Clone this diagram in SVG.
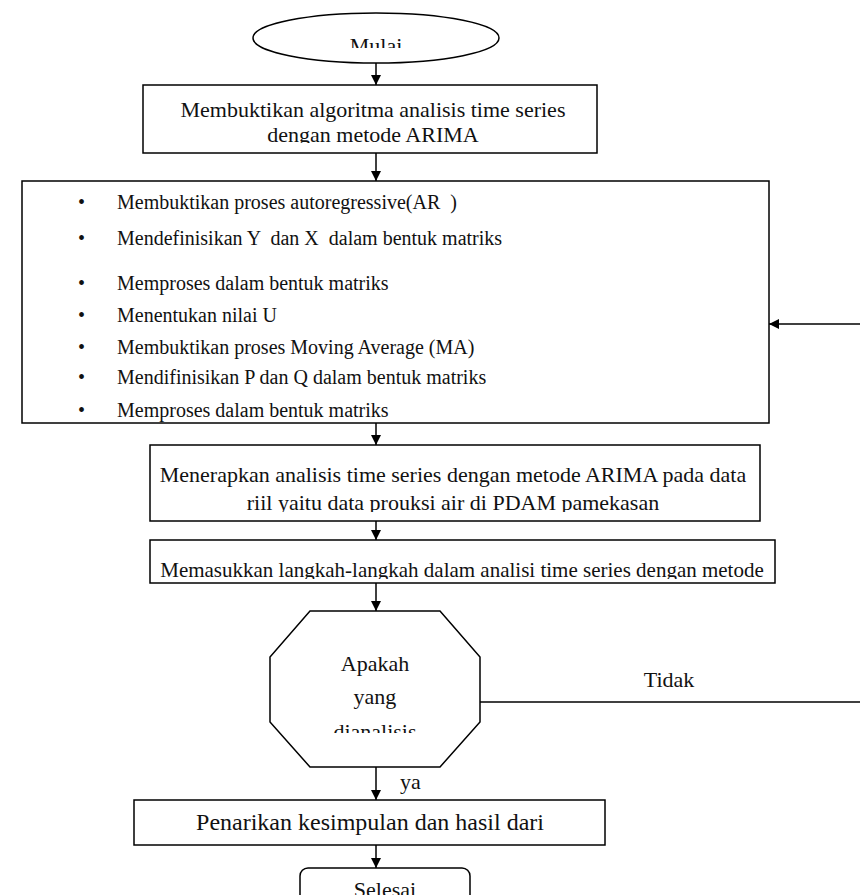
<svg xmlns="http://www.w3.org/2000/svg" width="860" height="895" viewBox="0 0 860 895">
<style>
.s{fill:#fff;stroke:#000;stroke-width:1.5}
.t{font-family:"Liberation Serif",serif;font-size:22px;fill:#111;white-space:pre}
.b{font-size:20px}
.c{stroke:#000;stroke-width:1.5;fill:none}
</style>
<defs>
<marker id="a" markerWidth="10" markerHeight="10" refX="10" refY="5" orient="auto" markerUnits="userSpaceOnUse" viewBox="0 0 10 10"><path d="M0,0L10,5L0,10z" fill="#000"/></marker>
<clipPath id="c1"><rect x="0" y="0" width="860" height="48"/></clipPath>
<clipPath id="c2"><rect x="0" y="85" width="860" height="58"/></clipPath>
<clipPath id="c3"><rect x="0" y="445" width="860" height="67"/></clipPath>
<clipPath id="c4"><rect x="0" y="540" width="860" height="39"/></clipPath>
<clipPath id="c5"><rect x="0" y="611" width="860" height="122"/></clipPath>
</defs>
<g id="connectors">
<line class="c" x1="376" y1="63" x2="376" y2="85" marker-end="url(#a)"/>
<line class="c" x1="376" y1="153" x2="376" y2="181" marker-end="url(#a)"/>
<line class="c" x1="376" y1="423" x2="376" y2="445" marker-end="url(#a)"/>
<line class="c" x1="376" y1="521" x2="376" y2="540" marker-end="url(#a)"/>
<line class="c" x1="376" y1="583" x2="376" y2="611" marker-end="url(#a)"/>
<line class="c" x1="376" y1="767" x2="376" y2="800" marker-end="url(#a)"/>
<line class="c" x1="376" y1="845" x2="376" y2="868" marker-end="url(#a)"/>
<line class="c" x1="480" y1="702" x2="860" y2="702"/>
<line class="c" x1="860" y1="324" x2="769" y2="324" marker-end="url(#a)"/>
<text class="t" x="669" y="687" text-anchor="middle">Tidak</text>
<text class="t" x="400" y="789">ya</text>
</g>
<g id="mulai">
<ellipse class="s" cx="376" cy="38" rx="123" ry="25"/>
<text class="t" x="376" y="53" text-anchor="middle" clip-path="url(#c1)">Mulai</text>
</g>
<g id="box1">
<rect class="s" x="143" y="85" width="454" height="68"/>
<g clip-path="url(#c2)">
<text class="t" x="373" y="117" text-anchor="middle">Membuktikan algoritma analisis time series</text>
<text class="t" x="373" y="142" text-anchor="middle">dengan metode ARIMA</text>
</g>
</g>
<g id="box2">
<rect class="s" x="22" y="181" width="747" height="242"/>
<text class="t b" x="78" y="209">•</text><text class="t b" x="117" y="209">Membuktikan proses autoregressive(AR  )</text>
<text class="t b" x="78" y="245">•</text><text class="t b" x="117" y="245">Mendefinisikan Y  dan X  dalam bentuk matriks</text>
<text class="t b" x="78" y="290">•</text><text class="t b" x="117" y="290">Memproses dalam bentuk matriks</text>
<text class="t b" x="78" y="322">•</text><text class="t b" x="117" y="322">Menentukan nilai U</text>
<text class="t b" x="78" y="354">•</text><text class="t b" x="117" y="354">Membuktikan proses Moving Average (MA)</text>
<text class="t b" x="78" y="384">•</text><text class="t b" x="117" y="384">Mendifinisikan P dan Q dalam bentuk matriks</text>
<text class="t b" x="78" y="417">•</text><text class="t b" x="117" y="417">Memproses dalam bentuk matriks</text>
</g>
<g id="box3">
<rect class="s" x="150" y="445" width="610" height="76"/>
<g clip-path="url(#c3)">
<text class="t" x="453" y="482" text-anchor="middle">Menerapkan analisis time series dengan metode ARIMA pada data</text>
<text class="t" x="453" y="510" text-anchor="middle">riil yaitu data prouksi air di PDAM pamekasan</text>
</g>
</g>
<g id="box4">
<rect class="s" x="150" y="540" width="625" height="43"/>
<text class="t" x="462" y="577" text-anchor="middle" clip-path="url(#c4)" style="font-size:21px">Memasukkan langkah-langkah dalam analisi time series dengan metode</text>
</g>
<g id="decision">
<polygon class="s" points="310,611 440,611 480,657 480,722 440,767 310,767 270,722 270,657"/>
<g clip-path="url(#c5)">
<text class="t" x="375" y="671" text-anchor="middle">Apakah</text>
<text class="t" x="375" y="704" text-anchor="middle">yang</text>
<text class="t" x="375" y="739" text-anchor="middle">dianalisis</text>
</g>
</g>
<g id="box5">
<rect class="s" x="134" y="800" width="471" height="45"/>
<text class="t" x="370" y="830" text-anchor="middle" style="font-size:24px">Penarikan kesimpulan dan hasil dari</text>
</g>
<g id="selesai">
<rect class="s" x="300" y="868" width="170" height="40" rx="8"/>
<text class="t" x="385" y="897" text-anchor="middle">Selesai</text>
</g>
</svg>
